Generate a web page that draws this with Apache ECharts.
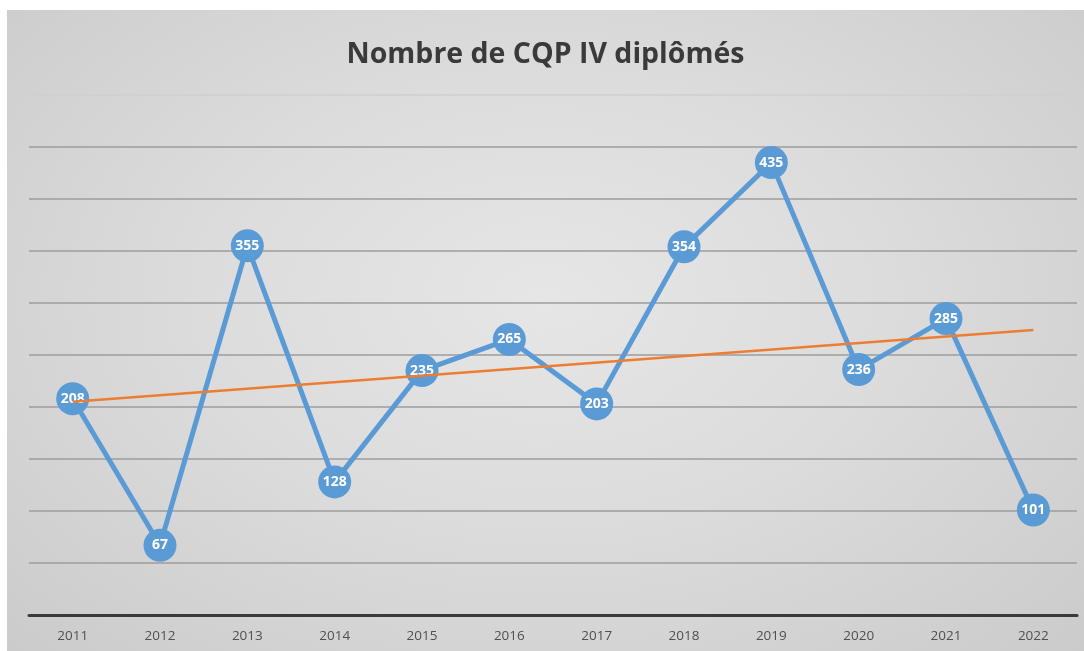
<!DOCTYPE html>
<html><head><meta charset="utf-8">
<script src="https://cdn.jsdelivr.net/npm/echarts@6/dist/echarts.min.js"></script>
<style>
html,body{margin:0;padding:0;background:#fff;width:1084px;height:651px;overflow:hidden;}
#c{position:absolute;left:7px;top:10px;width:1077px;height:641px;
background:radial-gradient(ellipse at 50% 45%, #e6e6e6 0%, #dcdcdc 45%, #cbcbcb 100%);}
</style></head>
<body><div id="c"></div>
<script>
const years = ['2011','2012','2013','2014','2015','2016','2017','2018','2019','2020','2021','2022'];
const values = [208, 67, 355, 128, 235, 265, 203, 354, 435, 236, 285, 101];
const trendYears = ['2011','2022'];
const trendValues = [205, 274];
const title = 'Nombre de CQP IV diplômés';

const gridColors = ['#9c9c9c','#9c9c9c','#9c9c9c','#9c9c9c','#9c9c9c','#9c9c9c','#9c9c9c','#9c9c9c','#9c9c9c','#9c9c9c','#cfcfcf'];
const chart = echarts.init(document.getElementById('c'), null, {renderer:'canvas'});
chart.setOption({
  backgroundColor: 'transparent',
  animation: false,
  title: {
    text: title, left: 'center', top: 25,
    textStyle: {fontFamily: 'Open Sans', fontWeight: 'bold', fontSize: 28.5, color: '#3a3a3a'}
  },
  grid: {left: 22, right: 7, top: 85, bottom: 36},
  xAxis: {
    type: 'category', data: years, boundaryGap: true,
    axisLine: {lineStyle: {color: '#3a3a3a', width: 3}},
    axisTick: {show: false},
    axisLabel: {color: '#505050', fontFamily: 'Open Sans', fontSize: 13.5, margin: 14}
  },
  yAxis: {
    type: 'value', min: 0, max: 500, interval: 50,
    axisLabel: {show: false}, axisLine: {show: false}, axisTick: {show: false},
    splitLine: {lineStyle: {color: gridColors, width: 1.5}}
  },
  series: [
    {
      type: 'line', data: values, symbol: 'circle', symbolSize: 33,
      lineStyle: {color: '#5b9bd5', width: 5},
      itemStyle: {color: '#5b9bd5'},
      label: {show: true, position: 'inside', color: '#fff', fontWeight: 'bold',
              fontFamily: 'Open Sans', fontSize: 14},
      z: 2
    },
    {
      type: 'line', data: trendYears.map((y,i)=>[y, trendValues[i]]),
      symbol: 'none', lineStyle: {color: '#ed7d31', width: 2.5}, z: 5
    }
  ]
});
</script></body></html>
